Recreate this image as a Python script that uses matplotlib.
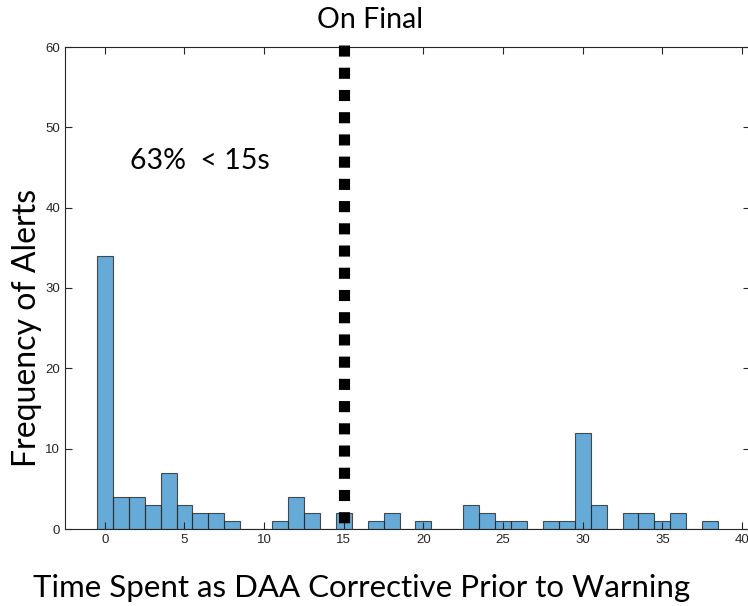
import matplotlib
matplotlib.use("Agg")
import matplotlib.pyplot as plt
import numpy as np

bin_edges = np.arange(-0.5, 39.0, 1.0)
counts = [34, 4, 4, 3, 7, 3, 2, 2, 1, 0, 0, 1, 4, 2, 0, 2, 0, 1, 2, 0,
          1, 0, 0, 3, 2, 1, 1, 0, 1, 1, 12, 3, 0, 2, 2, 1, 2, 0, 1]
xticks = [0, 5, 10, 15, 20, 25, 30, 35, 40]
yticks = [0, 10, 20, 30, 40, 50, 60]
marker_x = 15
title = "On Final"
annotation = "63%  < 15s"
xlabel = "Time Spent as DAA Corrective Prior to Warning"
ylabel = "Frequency of Alerts"

W, H = 748, 606
fig = plt.figure(figsize=(W / 100, H / 100), dpi=100)
ax = fig.add_axes([65 / W, (H - 529) / H, (750 - 65) / W, (529 - 47) / H])

face = (0.0, 0.447, 0.741, 0.6)
ax.hist(bin_edges[:-1] + 0.5, bins=bin_edges, weights=counts,
        color=face, edgecolor=(0.15, 0.15, 0.15, 0.8), linewidth=0.8)

ax.plot([marker_x, marker_x], [60.25, 0.8], color="black", linewidth=8,
        dashes=(1.0, 1.0), solid_capstyle="butt", dash_capstyle="butt",
        zorder=5, clip_on=False)

ax.set_xlim(-2.5, 40.5)
ax.set_ylim(0, 60)
ax.set_xticks(xticks)
ax.set_yticks(yticks)
ax.tick_params(direction="in", length=5, width=0.8, top=True, right=True,
               labelsize=9.5, labelcolor="#262626", colors="#262626")
for lab in ax.get_xticklabels() + ax.get_yticklabels():
    lab.set_fontfamily("Liberation Sans")
for s in ax.spines.values():
    s.set_linewidth(0.8)
    s.set_color("#262626")

ax.text(1.6, 45.8, annotation, fontsize=20.5, family="Lato", va="center",
        ha="left")
fig.text(370 / W, 1 - 20 / H, title, fontsize=20.5, family="Lato",
         ha="center", va="center")
fig.text(362 / W, 1 - 588 / H, xlabel, fontsize=22.5, family="Lato",
         ha="center", va="center")
fig.text(27 / W, 1 - 328 / H, ylabel, fontsize=23, family="Lato",
         ha="center", va="center", rotation=90)

fig.savefig("out.png", dpi=100)
